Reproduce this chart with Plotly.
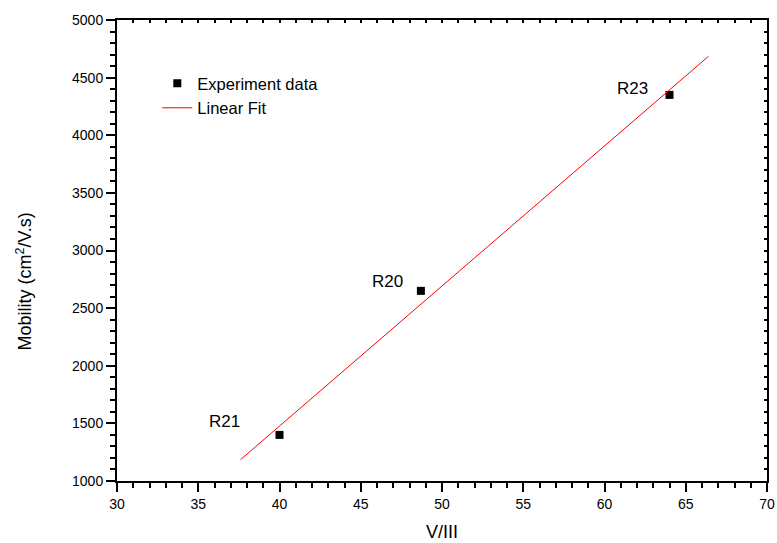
import plotly.graph_objects as go

# Data
sample_names = ["R21", "R20", "R23"]
v_iii = [40.0, 48.7, 64.0]
mobility = [1400, 2650, 4350]

# Linear fit line endpoints (as drawn)
fit_x = [37.6, 66.4]
fit_y = [1185, 4685]

FONT = "Liberation Sans, Arial, sans-serif"

fig = go.Figure()
fig.add_trace(go.Scatter(
    x=v_iii, y=mobility, mode="markers", name="Experiment data",
    marker=dict(symbol="square", size=8, color="black"),
))
fig.add_trace(go.Scatter(
    x=fit_x, y=fit_y, mode="lines", name="Linear Fit",
    line=dict(color="red", width=1),
))
# invisible trace to activate mirrored top/right axes
fig.add_trace(go.Scatter(x=[], y=[], xaxis="x2", yaxis="y2", showlegend=False))

label_offsets = {"R21": (-55, 13), "R20": (-33, 9), "R23": (-37, 6)}
for name, xv, yv in zip(sample_names, v_iii, mobility):
    dx, dy = label_offsets[name]
    fig.add_annotation(x=xv, y=yv, text=name, showarrow=False,
                       xshift=dx, yshift=dy,
                       font=dict(family=FONT, size=17, color="black"))

axis_common = dict(showgrid=False, zeroline=False, linecolor="black", linewidth=2,
                   tickcolor="black", tickwidth=1.5, automargin=False,
                   tickfont=dict(family=FONT, size=14, color="black"))

fig.update_layout(
    width=777, height=543,
    margin=dict(l=117, r=10, t=20, b=62, autoexpand=False),
    plot_bgcolor="white", paper_bgcolor="white",
    showlegend=True,
    legend=dict(x=0.062, y=0.9, xanchor="left", yanchor="top",
                bgcolor="rgba(0,0,0,0)", font=dict(family=FONT, size=16.5, color="black"),
                itemwidth=30, tracegroupgap=0),
    xaxis=dict(range=[30, 70], dtick=5, tick0=30, ticks="outside", ticklen=9,
               minor=dict(dtick=1, ticks="outside", ticklen=5, tickcolor="black", tickwidth=1.5),
               **axis_common),
    yaxis=dict(range=[1000, 5000], dtick=500, tick0=1000, ticks="outside", ticklen=9,
               minor=dict(dtick=100, ticks="outside", ticklen=5, tickcolor="black", tickwidth=1.5),
               **axis_common),
    xaxis2=dict(range=[30, 70], overlaying="x", side="top", showticklabels=False,
                showgrid=False, zeroline=False, linecolor="black", linewidth=2, automargin=False,
                ticks="inside", ticklen=3, dtick=1, tick0=30, tickcolor="black", tickwidth=1.5),
    yaxis2=dict(range=[1000, 5000], overlaying="y", side="right", showticklabels=False,
                showgrid=False, zeroline=False, linecolor="black", linewidth=2, automargin=False,
                ticks="inside", ticklen=3, dtick=100, tick0=1000, tickcolor="black", tickwidth=1.5),
)

fig.add_annotation(xref="paper", yref="paper", x=0.5, y=-0.11, yanchor="middle",
                   text="V/III", showarrow=False,
                   font=dict(family=FONT, size=18, color="black"))
fig.add_annotation(xref="paper", yref="paper", x=-0.142, y=0.432, textangle=-90,
                   xanchor="center", yanchor="middle",
                   text="Mobility (cm<sup>2</sup>/V.s)", showarrow=False,
                   font=dict(family=FONT, size=18, color="black"))

fig.write_html("out.html")
